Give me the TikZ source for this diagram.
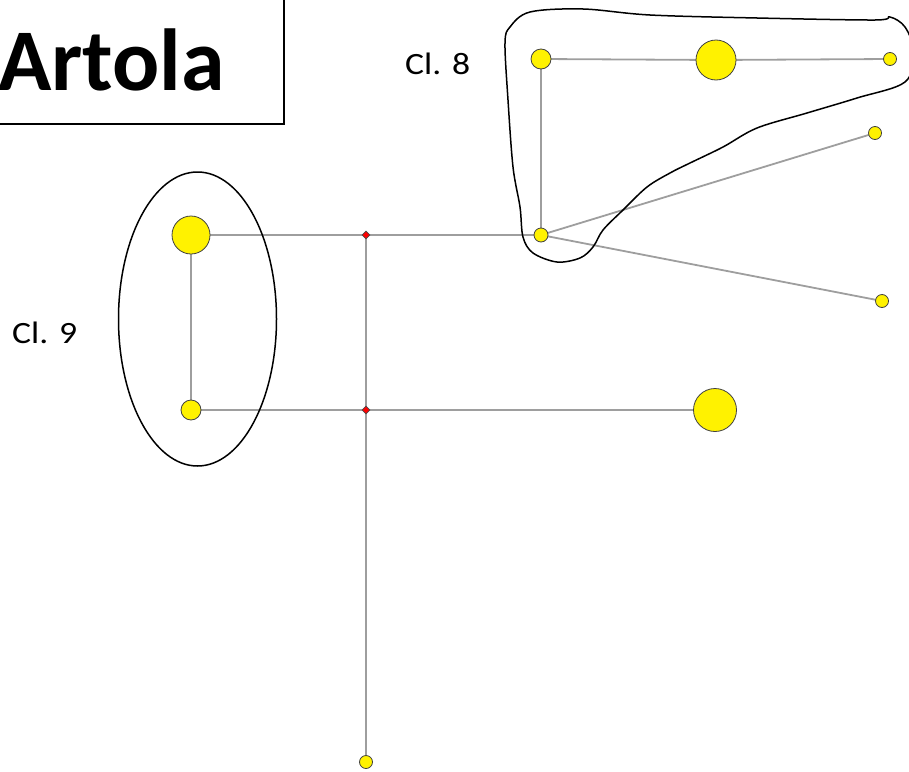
\documentclass[tikz,border=0pt]{standalone}
\usepackage{fontspec}
\setmainfont{Carlito}
\newfontfamily\lblfont[FakeStretch=1.15]{Carlito}
\usetikzlibrary{backgrounds,shapes.geometric}
\begin{document}
\begin{tikzpicture}[x=1pt,y=-1pt,
  vtx/.style={circle,draw=black!75,fill=yellow,line width=0.8pt,inner sep=0pt,minimum size=#1},
  jn/.style={diamond,draw=black!70,fill=red,inner sep=0pt,minimum size=8pt,line width=0.6pt},
  edge/.style={draw=black!38,line width=1.8pt},
  hull/.style={draw=black,line width=1.5pt},
  lbl/.style={anchor=base west,inner sep=0pt,font=\lblfont\fontsize{31}{36}\selectfont}]
\useasboundingbox (0,0) rectangle (909,771);
\clip (0,0) rectangle (909,771);
% title
\draw[line width=1.5pt] (-10,-10) rectangle (284,124);
\node[anchor=base west,inner sep=0pt,font=\bfseries\fontsize{88}{96}\selectfont] (title) at (-2,90) {Artola};
% vertices
\node[vtx=20pt] (c8a) at (541,59) {};
\node[vtx=40pt] (c8b) at (716,60) {};
\node[vtx=13pt] (c8c) at (890,59) {};
\node[vtx=14pt] (c8d) at (541,235) {};
\node[vtx=13pt] (e1) at (875,133) {};
\node[vtx=13pt] (e2) at (882,301) {};
\node[vtx=38pt] (c9a) at (191,235) {};
\node[vtx=20pt] (c9b) at (191,410) {};
\node[vtx=43pt] (big) at (715,410) {};
\node[vtx=13pt] (bot) at (366,762) {};
\node[jn] (j1) at (366,235) {};
\node[jn] (j2) at (366,410) {};
% edges
\begin{scope}[on background layer]
\draw[edge] (c9a.center) -- (j1.center) -- (c8d.center);
\draw[edge] (c9a.center) -- (c9b.center);
\draw[edge] (c9b.center) -- (j2.center) -- (big.center);
\draw[edge] (j1.center) -- (j2.center) -- (bot.center);
\draw[edge] (c8a.center) -- (c8d.center);
\draw[edge] (c8a.center) -- (c8b.center) -- (c8c.center);
\draw[edge] (c8d.center) -- (e1.center);
\draw[edge] (c8d.center) -- (e2.center);
\end{scope}
% cluster outlines
\draw[hull] (197.5,319) ellipse [x radius=79, y radius=147];
\draw[hull] plot[smooth cycle,tension=0.55] coordinates {
 (530,12) (583,9) (650,15) (757,18) (875,20) (890,17) (905,27) (914,52) (905,82)
 (857,98) (807,113) (757,128) (723,147) (690,163) (670,173)
 (647,187) (623,210) (603,230) (593,247) (580,258) (557,262) (533,253)
 (523,237) (520,207) (513,167) (508,100) (505,43) (510,27)};
% labels
\node[lbl] (l8) at (405,74) {Cl. 8};
\node[lbl] (l9) at (12,343) {Cl. 9};
\end{tikzpicture}
\end{document}
